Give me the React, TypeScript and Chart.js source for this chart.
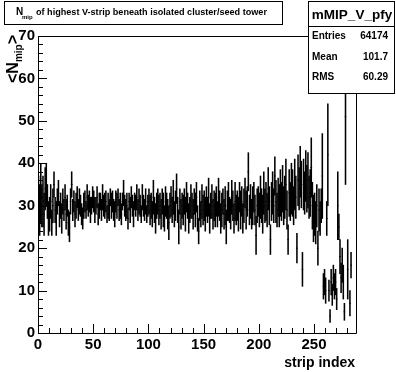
import React, { useEffect, useRef } from "react";
import { Chart, registerables } from "chart.js";

Chart.register(...registerables);

const TITLE_MAIN = "N";
const TITLE_SUB = "mip";
const TITLE_REST = "of highest V-strip beneath isolated cluster/seed tower";
const STATS_NAME = "mMIP_V_pfy";
const STATS_LABELS = ["Entries", "Mean", "RMS"];
const STATS_VALUES = ["64174", "101.7", "60.29"];
const X_TITLE = "strip index";
const Y_TITLE_MAIN = "<N";
const Y_TITLE_SUB = "mip";
const Y_TITLE_END = ">";
const X_MIN = 0;
const X_MAX = 288;
const Y_MIN = 0;
const Y_MAX = 70;
const X_MAJOR = 50;
const X_MINOR = 10;
const Y_MAJOR = 10;
const Y_MINOR = 2;

// profile means per strip (null = empty bin)
const MEANS: (number | null)[] = [
  30, 29, 33, 30, 31, 28, 34, 35, 31, 27,
  28, 31, 26, 30, 35, 29, 27, 31, 33, 28,
  30, 27, 31, 29, 32, 28, 30, 26, 25, 31,
  35, 29, 31, 28, 30, 32, 29, 31, 30, 28,
  27, 30, 31, 29, 32, 30, 31, 29, 30, 32,
  31, 29, 30, 32, 28, 30, 31, 29, 32, 30,
  30, 31, 28, 30, 29, 32, 30, 31, 29, 28,
  31, 30, 32, 29, 30, 28, 31, 33, 30, 29,
  30, 27, 31, 29, 32, 30, 28, 31, 30, 32,
  29, 31, 30, 28, 32, 30, 29, 31, 28, 30,
  31, 29, 30, 28, 32, 29, 27, 30, 31, 29,
  30, 28, 31, 29, 27, 31, 30, 28, 26, 30,
  31, 29, 32, 28, 30, 34, 29, 25, 31, 28,
  30, 29, 31, 28, 32, 30, 27, 29, 31, 30,
  28, 31, 29, 32, 27, 24, 30, 28, 31, 29,
  30, 28, 31, 29, 32, 27, 30, 31, 28, 30,
  29, 31, 28, 32, 30, 27, 29, 31, 28, 30,
  25, 30, 31, 29, 28, 32, 30, 27, 31, 29,
  30, 28, 32, 29, 31, 27, 30, 33, 29, 31,
  38, 29, 31, 28, 30, 32, 29, 23, 30, 31,
  29, 32, 30, 28, 33, 30, 31, 29, 34, 30,
  22, 31, 33, 30, 37, 31, 29, 32, 30, 33,
  31, 34, 30, 32, 35, 29, 22, 33, 31, 34,
  33, 30, 35, 32, 20, 36, 34, 38, 35, 15,
  35, 33, 37, 34, 36, 32, 33, 39, 30, 27,
  28, 26, 30, 20, 29, 27, 30, 37, 11, 12,
  10, 27, 42, 10, 4, 12, 9, 13, 11, 12,
  8, 30, 25, 18, 13, 16, 12, 5, 51, null,
  15, null, 7, 16, null, null, null, null,
];

// error on the mean per strip
const ERRORS: number[] = [
  7, 6, 7, 5, 6, 5, 5, 5, 4, 4,
  4, 4, 3, 4, 3, 3, 4, 3, 3, 3,
  3, 3.5, 3, 2.5, 3, 3.5, 2.5, 3, 3.5, 3,
  3, 2.5, 2.5, 3, 3, 2.5, 2.5, 3, 2.5, 2.5,
  2.5, 3, 2.5, 2, 3, 2.5, 2.5, 3, 2, 2.5,
  2.5, 3, 2, 2.5, 2.5, 3, 2, 2.5, 3, 2.5,
  3, 2.5, 2, 3, 2.5, 2, 3, 2.5, 2.5, 3,
  2.5, 3, 2, 2.5, 3, 2.5, 2, 3, 2.5, 2.5,
  3, 2.5, 2, 3, 2.5, 2.5, 3, 2, 2.5, 3,
  2.5, 3, 2.5, 2, 3, 2.5, 2.5, 3, 2, 2.5,
  3, 3.5, 3, 3, 4, 3, 3.5, 3, 3, 3.5,
  3, 3.5, 3, 4, 3, 3.5, 3, 3.5, 4, 3,
  3.5, 3, 4, 3, 3.5, 3.5, 3, 4, 3, 3.5,
  3, 3.5, 3, 4, 3.5, 3, 3.5, 3, 4, 3,
  3.5, 3, 4, 3.5, 3, 3, 3.5, 3, 4, 3.5,
  3.5, 4, 3.5, 3, 4.5, 3.5, 3, 4, 3.5, 3.5,
  4, 3.5, 3, 4.5, 3.5, 3.5, 4, 3, 3.5, 4.5,
  4, 3.5, 4.5, 3, 3.5, 4, 3.5, 3.5, 4.5, 3.5,
  3.5, 4, 3.5, 4.5, 3.5, 3.5, 4, 3.5, 4.5, 3.5,
  4.5, 3.5, 4, 3.5, 4.5, 3.5, 3.5, 4.5, 4, 3.5,
  4, 5, 4, 4.5, 5, 4, 4.5, 4, 5, 4.5,
  3.5, 4.5, 5, 4, 4.5, 5, 4, 4.5, 5, 5.5,
  4.5, 5.5, 4.5, 5, 6, 4.5, 3.5, 5.5, 4.5, 6,
  5.5, 4.5, 6, 5, 3.5, 6, 5, 6, 5.5, 4,
  6, 5, 6, 5.5, 6.5, 5, 5.5, 7, 5.5, 5.5,
  5, 5, 5, 4, 5, 4, 4, 10, 3, 3,
  3, 4, 12, 2.5, 1.5, 3, 2.5, 3, 3, 3,
  2.5, 8, 3, 4, 3.5, 4, 4, 2, 16, 0,
  7, 0, 3, 3, 0, 0, 0, 0,
];

const FONT = "'Liberation Sans', Arial, Helvetica, sans-serif";

const rootPlugin = {
  id: "rootDecor",
  beforeDraw(chart: any) {
    const ctx = chart.ctx;
    ctx.save();
    ctx.fillStyle = "#fff";
    ctx.fillRect(0, 0, chart.width, chart.height);
    ctx.restore();
  },
  afterDatasetsDraw(chart: any) {
    const ctx = chart.ctx;
    const { left, right, top, bottom } = chart.chartArea;
    const xs = chart.scales.x;
    const ys = chart.scales.y;
    ctx.save();
    ctx.strokeStyle = "#000";
    ctx.lineWidth = 1;
    ctx.beginPath();
    ctx.rect(Math.round(left) + 0.5, Math.round(top) + 0.5, Math.round(right - left), Math.round(bottom - top));
    for (let v = Y_MIN; v <= Y_MAX + 1e-9; v += Y_MINOR) {
      const py = Math.round(ys.getPixelForValue(v)) + 0.5;
      const len = Math.abs(v % Y_MAJOR) < 1e-9 ? 9 : 5;
      ctx.moveTo(left, py);
      ctx.lineTo(left + len, py);
    }
    for (let v = X_MIN; v <= X_MAX + 1e-9; v += X_MINOR) {
      const px = Math.round(xs.getPixelForValue(v)) + 0.5;
      const len = Math.abs(v % X_MAJOR) < 1e-9 ? 9 : 5;
      ctx.moveTo(px, bottom);
      ctx.lineTo(px, bottom - len);
    }
    ctx.stroke();
    ctx.restore();
  },
  afterDraw(chart: any) {
    const ctx = chart.ctx;
    ctx.save();
    ctx.strokeStyle = "#000";
    ctx.fillStyle = "#000";
    ctx.lineWidth = 1;

    // title box
    ctx.fillStyle = "#fff";
    ctx.fillRect(4.5, 1.5, 278, 23);
    ctx.strokeRect(4.5, 1.5, 278, 23);
    ctx.fillStyle = "#000";
    ctx.textBaseline = "alphabetic";
    ctx.textAlign = "left";
    ctx.font = `bold 10px ${FONT}`;
    ctx.fillText(TITLE_MAIN, 16, 15);
    ctx.font = `bold 6px ${FONT}`;
    ctx.fillText(TITLE_SUB, 22, 19);
    ctx.font = `bold 9.1px ${FONT}`;
    ctx.fillText(TITLE_REST, 36, 15);

    // stats box
    ctx.fillStyle = "#fff";
    ctx.fillRect(308.5, 1.5, 86, 92);
    ctx.strokeRect(308.5, 1.5, 86, 92);
    ctx.beginPath();
    ctx.moveTo(308.5, 26.5);
    ctx.lineTo(394.5, 26.5);
    ctx.stroke();
    ctx.fillStyle = "#000";
    ctx.font = `bold 13.5px ${FONT}`;
    ctx.textAlign = "center";
    ctx.fillText(STATS_NAME, 352, 19);
    ctx.font = `bold 10px ${FONT}`;
    const rowsY = [39, 59.5, 80];
    STATS_LABELS.forEach((lab, i) => {
      ctx.textAlign = "left";
      ctx.fillText(lab, 312, rowsY[i]);
      ctx.textAlign = "right";
      ctx.fillText(STATS_VALUES[i], 388, rowsY[i]);
    });

    // x title
    ctx.font = `bold 14px ${FONT}`;
    ctx.textAlign = "right";
    ctx.fillText(X_TITLE, 355, 367);

    // y title (rotated)
    ctx.translate(18, 83);
    ctx.rotate(-Math.PI / 2);
    ctx.textAlign = "left";
    ctx.font = `bold 16px ${FONT}`;
    ctx.fillText(Y_TITLE_MAIN, 0, 0);
    let w = ctx.measureText(Y_TITLE_MAIN).width;
    ctx.font = `bold 10px ${FONT}`;
    ctx.fillText(Y_TITLE_SUB, w, 4);
    w += ctx.measureText(Y_TITLE_SUB).width;
    ctx.font = `bold 16px ${FONT}`;
    ctx.fillText(Y_TITLE_END, w, 0);
    ctx.restore();
  },
};

export default function App() {
  const ref = useRef<HTMLCanvasElement | null>(null);
  useEffect(() => {
    if (!ref.current) return;
    const barData: any[] = [];
    const pointData: any[] = [];
    MEANS.forEach((m, i) => {
      if (m === null) return;
      barData.push({ x: i + 0.5, y: [m - ERRORS[i], m + ERRORS[i]] });
      pointData.push({ x: i + 0.5, y: m });
    });
    const chart = new Chart(ref.current, {
      type: "bar",
      data: {
        datasets: [
          {
            type: "bar",
            data: barData,
            backgroundColor: "#000",
            borderWidth: 0,
            barThickness: 0.9,
            grouped: false,
          } as any,
          {
            type: "scatter",
            data: pointData,
            pointStyle: "line",
            radius: 0.8,
            borderColor: "#000",
            borderWidth: 1,
            showLine: false,
          } as any,
        ],
      },
      options: {
        animation: false,
        responsive: false,
        events: [],
        layout: { padding: { left: 0, top: 36, right: 40, bottom: 0 } },
        plugins: { legend: { display: false }, tooltip: { enabled: false }, title: { display: false } },
        scales: {
          x: {
            type: "linear",
            offset: false,
            min: X_MIN,
            max: X_MAX,
            grid: { display: false, drawTicks: false },
            border: { display: false },
            ticks: {
              stepSize: X_MAJOR,
              includeBounds: false,
              padding: 3,
              color: "#000",
              maxRotation: 0,
              autoSkip: false,
              font: { family: FONT, size: 15, weight: "bold" },
            },
            afterFit: (s: any) => {
              s.height = 39;
            },
          },
          y: {
            type: "linear",
            min: Y_MIN,
            max: Y_MAX,
            grid: { display: false, drawTicks: false },
            border: { display: false },
            ticks: {
              stepSize: Y_MAJOR,
              padding: 3,
              color: "#000",
              autoSkip: false,
              font: { family: FONT, size: 15, weight: "bold" },
            },
            afterFit: (s: any) => {
              s.width = 38;
            },
          },
        },
      } as any,
      plugins: [rootPlugin],
    });
    return () => chart.destroy();
  }, []);
  return (
    <div style={{ position: "fixed", left: 0, top: 0, width: 396, height: 372, background: "#fff" }}>
      <canvas ref={ref} width={396} height={372} style={{ width: 396, height: 372, display: "block" }} />
    </div>
  );
}
